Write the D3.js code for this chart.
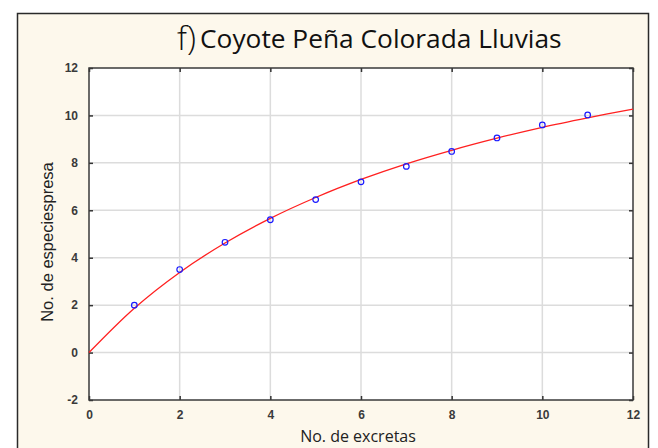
<!DOCTYPE html>
<html lang="es">
<head>
  <meta charset="UTF-8">
  <title>Coyote Peña Colorada Lluvias</title>
  <script src="https://d3js.org/d3.v7.min.js"></script>
  <style>
    body { margin: 0; background: #fff; }
  </style>
</head>
<body>
  <div id="chart"></div>
  <script>
    // observed points
    const excretas = [1, 2, 3, 4, 5, 6, 7, 8, 9, 10, 11];
    const especies = [2.0, 3.5, 4.65, 5.6, 6.45, 7.2, 7.85, 8.48, 9.05, 9.6, 10.02];

    // fitted curve
    const curveX = [0, 1, 2, 3, 4, 5, 6, 7, 8, 9, 10, 11, 12];
    const curveY = [0, 1.87, 3.38, 4.62, 5.66, 6.54, 7.3, 7.96, 8.53, 9.04, 9.5, 9.9, 10.27];

    const xTicks = [0, 2, 4, 6, 8, 10, 12];
    const yTicks = [-2, 0, 2, 4, 6, 8, 10, 12];

    const width = 658, height = 448;
    const plot = {left: 89, right: 633, top: 68, bottom: 400};

    const svg = d3.select("#chart").append("svg")
      .attr("width", width)
      .attr("height", height);

    // outer frame
    svg.append("rect")
      .attr("x", 17.5).attr("y", 13.5)
      .attr("width", 631).attr("height", 450)
      .attr("fill", "#fdf8ec")
      .attr("stroke", "#2a2a2a")
      .attr("stroke-width", 1.5);

    const x = d3.scaleLinear().domain([0, 12]).range([plot.left, plot.right]);
    const y = d3.scaleLinear().domain([-2, 12]).range([plot.bottom, plot.top]);

    svg.append("rect")
      .attr("x", plot.left).attr("y", plot.top)
      .attr("width", plot.right - plot.left).attr("height", plot.bottom - plot.top)
      .attr("fill", "#fff");

    // grid
    svg.append("g").selectAll("line")
      .data(xTicks.slice(1, -1))
      .join("line")
        .attr("x1", d => x(d)).attr("x2", d => x(d))
        .attr("y1", plot.top).attr("y2", plot.bottom)
        .attr("stroke", "#dcdcdc").attr("stroke-width", 1.5);

    svg.append("g").selectAll("line")
      .data(yTicks.slice(1, -1))
      .join("line")
        .attr("x1", plot.left).attr("x2", plot.right)
        .attr("y1", d => y(d)).attr("y2", d => y(d))
        .attr("stroke", "#dcdcdc").attr("stroke-width", 1.5);

    // axes, ticks pointing inwards on all four sides
    const fmt = d => String(d); // plain hyphen for negatives
    const tickStyle = g => {
      g.select(".domain").remove();
      g.selectAll(".tick line").attr("stroke", "#333").attr("stroke-width", 1.5);
      g.selectAll(".tick text")
        .attr("font-family", "Liberation Sans, Arial, sans-serif")
        .attr("font-size", 12)
        .attr("font-weight", "bold")
        .attr("fill", "#3a3a3a");
    };

    svg.append("g")
      .attr("transform", `translate(0,${plot.bottom})`)
      .call(d3.axisBottom(x).tickValues(xTicks).tickSize(-4).tickPadding(10).tickFormat(fmt))
      .call(tickStyle);

    svg.append("g")
      .attr("transform", `translate(0,${plot.top})`)
      .call(d3.axisTop(x).tickValues(xTicks).tickSize(-4).tickFormat(""))
      .call(tickStyle);

    svg.append("g")
      .attr("transform", `translate(${plot.left},0)`)
      .call(d3.axisLeft(y).tickValues(yTicks).tickSize(-4).tickPadding(11).tickFormat(fmt))
      .call(tickStyle);

    svg.append("g")
      .attr("transform", `translate(${plot.right},0)`)
      .call(d3.axisRight(y).tickValues(yTicks).tickSize(-4).tickFormat(""))
      .call(tickStyle);

    // plot border
    svg.append("rect")
      .attr("x", plot.left).attr("y", plot.top)
      .attr("width", plot.right - plot.left).attr("height", plot.bottom - plot.top)
      .attr("fill", "none")
      .attr("stroke", "#3a3a3a")
      .attr("stroke-width", 1.5);

    // fitted curve
    const line = d3.line()
      .x((d, i) => x(curveX[i]))
      .y(d => y(d))
      .curve(d3.curveCatmullRom);

    svg.append("path")
      .datum(curveY)
      .attr("d", line)
      .attr("fill", "none")
      .attr("stroke", "#ff2020")
      .attr("stroke-width", 1.3);

    // points
    svg.append("g").selectAll("circle")
      .data(especies)
      .join("circle")
        .attr("cx", (d, i) => x(excretas[i]))
        .attr("cy", d => y(d))
        .attr("r", 2.8)
        .attr("fill", "none")
        .attr("stroke", "#1a1aff")
        .attr("stroke-width", 1.2);

    // title
    svg.append("text")
      .attr("x", 177).attr("y", 50)
      .attr("fill", "#111")
      .attr("font-family", "Open Sans, sans-serif")
      .attr("font-size", 33)
      .attr("font-weight", 300)
      .text("f)");
    svg.append("text")
      .attr("x", 200).attr("y", 48)
      .attr("fill", "#111")
      .attr("font-family", "Open Sans, sans-serif")
      .attr("font-size", 26.3)
      .text("Coyote Peña Colorada Lluvias");

    // axis titles
    svg.append("text")
      .attr("x", 358).attr("y", 442)
      .attr("text-anchor", "middle")
      .attr("font-family", "Open Sans, sans-serif")
      .attr("font-size", 16)
      .attr("fill", "#222")
      .text("No. de excretas");

    svg.append("text")
      .attr("transform", "translate(53,242) rotate(-90)")
      .attr("text-anchor", "middle")
      .attr("font-family", "Liberation Sans, Arial, sans-serif")
      .attr("font-size", 16.5)
      .attr("fill", "#222")
      .text("No. de especiespresa");
  </script>
</body>
</html>
